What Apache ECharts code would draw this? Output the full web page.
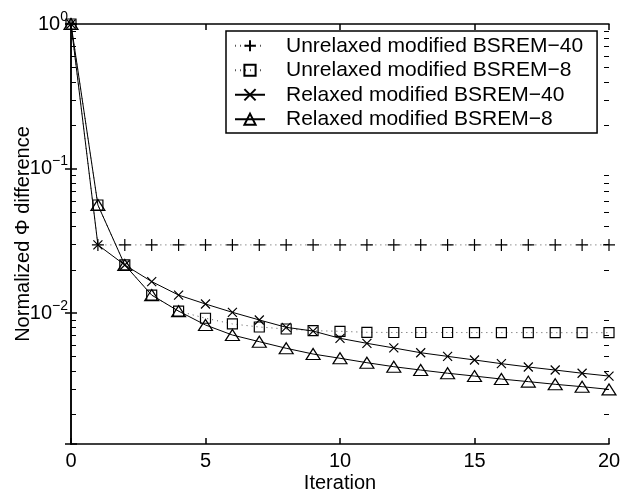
<!DOCTYPE html>
<html>
<head>
<meta charset="utf-8">
<script src="https://cdn.jsdelivr.net/npm/echarts@6/dist/echarts.min.js"></script>
<style>
  html, body { margin: 0; padding: 0; background: #fff; }
  #chart { width: 620px; height: 491px; }
</style>
</head>
<body>
<div id="chart"></div>
<script>
// iterations 0..20
var iterations = [0, 1, 2, 3, 4, 5, 6, 7, 8, 9, 10, 11, 12, 13, 14, 15, 16, 17, 18, 19, 20];

var seriesNames = [
    'Unrelaxed modified BSREM\u221240',
    'Unrelaxed modified BSREM\u22128',
    'Relaxed modified BSREM\u221240',
    'Relaxed modified BSREM\u22128'
];

// values
var unrelaxed40 = [1, 0.0296, 0.0296, 0.0296, 0.0296, 0.0296, 0.0296, 0.0296, 0.0296, 0.0296, 0.0296,
    0.0296, 0.0296, 0.0296, 0.0296, 0.0296, 0.0296, 0.0296, 0.0296, 0.0296, 0.0296];
var unrelaxed8 = [1, 0.0559, 0.0215, 0.0133, 0.0103, 0.0092, 0.0084, 0.0080, 0.00775, 0.00755, 0.00747,
    0.00735, 0.00733, 0.00733, 0.00733, 0.00732, 0.00732, 0.00732, 0.00731, 0.00731, 0.00731];
var relaxed40 = [1, 0.0296, 0.0215, 0.0165, 0.0133, 0.01154, 0.01011, 0.00895, 0.00796, 0.0075, 0.00668,
    0.00617, 0.00573, 0.00531, 0.00501, 0.00473, 0.00446, 0.00423, 0.00403, 0.00383, 0.00366];
var relaxed8 = [1, 0.0559, 0.0215, 0.0133, 0.0103, 0.00826, 0.00704, 0.00633, 0.0057, 0.0052, 0.00486,
    0.00453, 0.00425, 0.00403, 0.00383, 0.00366, 0.00349, 0.00335, 0.00321, 0.00309, 0.00296];

// minor ticks of the log axis (2..9 per decade)
var minorTicks = [0.002, 0.003, 0.004, 0.005, 0.006, 0.007, 0.008, 0.009,
    0.02, 0.03, 0.04, 0.05, 0.06, 0.07, 0.08, 0.09,
    0.2, 0.3, 0.4, 0.5, 0.6, 0.7, 0.8, 0.9];

var yMin = 0.00124, yMax = 1;
var FONT = '"Liberation Sans", Arial, Helvetica, sans-serif';

var plusPath = 'path://M0,5L10,5M5,0L5,10';
var crossPath = 'path://M0,0L10,10M10,0L0,10';

function pairs(vals) {
    return iterations.map(function (x, i) { return [x, vals[i]]; });
}

function logLabel(v) {
    var l = Math.log10(v);
    var e = Math.round(l);
    if (Math.abs(l - e) > 1e-6) return '';
    return '{b|10}{s|' + (e < 0 ? '\u2212' + (-e) : e) + '}';
}

var myChart = echarts.init(document.getElementById('chart'));

var option = {
    backgroundColor: '#fff',
    animation: false,
    textStyle: { fontFamily: FONT, color: '#000' },
    grid: { left: 71, right: 11, top: 24, bottom: 47, containLabel: false, outerBoundsMode: 'none' },
    legend: {
        data: seriesNames,
        orient: 'vertical',
        left: 226,
        top: 31,
        padding: [3, 14, 2, 8],
        itemWidth: 30,
        itemHeight: 14,
        itemGap: 1,
        backgroundColor: '#fff',
        borderColor: '#000',
        borderWidth: 1.5,
        borderRadius: 0,
        textStyle: { fontFamily: FONT, fontSize: 21, color: '#000', lineHeight: 23.5, padding: [0, 0, 0, 16] }
    },
    xAxis: [{
        type: 'value',
        min: 0, max: 20, interval: 5,
        name: 'Iteration',
        nameLocation: 'middle',
        nameGap: 29,
        nameMoveOverlap: false,
        nameTextStyle: { fontSize: 20, color: '#000' },
        axisLine: { lineStyle: { color: '#000', width: 1.5 } },
        axisTick: { inside: true, length: 6, lineStyle: { color: '#000', width: 1.5 } },
        axisLabel: { fontSize: 20, color: '#000', margin: 7 },
        splitLine: { show: false }
    }, {
        type: 'value',
        position: 'top',
        min: 0, max: 20, interval: 5,
        axisLine: { lineStyle: { color: '#000', width: 1.5 } },
        axisTick: { inside: true, length: 6, lineStyle: { color: '#000', width: 1.5 } },
        axisLabel: { show: false },
        splitLine: { show: false }
    }],
    yAxis: [{
        type: 'log',
        logBase: 10,
        min: yMin, max: yMax,
        splitNumber: 3,
        name: 'Normalized \u03A6 difference',
        nameLocation: 'middle',
        nameGap: 38,
        nameMoveOverlap: false,
        nameTextStyle: { fontSize: 20, color: '#000' },
        axisLine: { lineStyle: { color: '#000', width: 1.5 } },
        axisTick: { inside: true, length: 6, lineStyle: { color: '#000', width: 1.5 } },
        axisLabel: {
            formatter: logLabel,
            margin: 3,
            rich: {
                b: { fontSize: 20, color: '#000', fontFamily: FONT },
                s: { fontSize: 14, color: '#000', fontFamily: FONT, padding: [0, 0, 14, 0] }
            }
        },
        splitLine: { show: false }
    }, {
        type: 'log',
        logBase: 10,
        position: 'right',
        min: yMin, max: yMax,
        splitNumber: 3,
        axisLine: { lineStyle: { color: '#000', width: 1.5 } },
        axisTick: { inside: true, length: 6, lineStyle: { color: '#000', width: 1.5 } },
        axisLabel: { show: false },
        splitLine: { show: false }
    }],
    series: [
        {
            name: seriesNames[0],
            type: 'line',
            data: pairs(unrelaxed40),
            symbol: plusPath,
            symbolSize: 12,
            itemStyle: { color: 'none', borderColor: '#000', borderWidth: 1.2 },
            lineStyle: { color: '#555', width: 1, type: [1, 4] },
            z: 3
        },
        {
            name: seriesNames[1],
            type: 'line',
            data: pairs(unrelaxed8),
            symbol: 'rect',
            symbolSize: 10,
            itemStyle: { color: 'none', borderColor: '#000', borderWidth: 1.2 },
            lineStyle: { color: '#555', width: 1, type: [1, 4] },
            z: 3
        },
        {
            name: seriesNames[2],
            type: 'line',
            data: pairs(relaxed40),
            symbol: crossPath,
            symbolSize: 9,
            itemStyle: { color: 'none', borderColor: '#000', borderWidth: 1.2 },
            lineStyle: { color: '#000', width: 1 },
            z: 4
        },
        {
            name: seriesNames[3],
            type: 'line',
            data: pairs(relaxed8),
            symbol: 'triangle',
            symbolSize: [14, 11],
            itemStyle: { color: 'none', borderColor: '#000', borderWidth: 1.2 },
            lineStyle: { color: '#000', width: 1 },
            z: 4
        }
    ]
};

myChart.setOption(option);

// minor ticks on both edges, placed through the chart's own scales,
// drawn on their own layer so nothing paints over them
var ticks = [];
minorTicks.forEach(function (v) {
    var l = myChart.convertToPixel({ xAxisIndex: 0, yAxisIndex: 0 }, [0, v]);
    var r = myChart.convertToPixel({ xAxisIndex: 0, yAxisIndex: 0 }, [20, v]);
    var y = Math.round(l[1]) + 0.5;
    ticks.push({
        type: 'rect', silent: true, z: 100, zlevel: 1,
        shape: { x: l[0], y: y - 0.5, width: 5, height: 1 },
        style: { fill: '#000' }
    });
    ticks.push({
        type: 'rect', silent: true, z: 100, zlevel: 1,
        shape: { x: r[0] - 5, y: y - 0.5, width: 5, height: 1 },
        style: { fill: '#000' }
    });
});
myChart.setOption({ graphic: { elements: ticks } });
</script>
</body>
</html>
